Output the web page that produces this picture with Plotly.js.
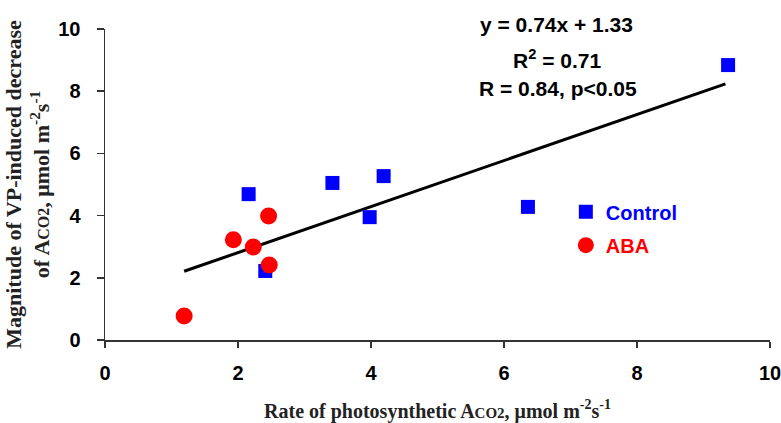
<!DOCTYPE html>
<html>
<head>
<meta charset="utf-8">
<script src="https://cdn.plot.ly/plotly-3.0.1.min.js"></script>
<style>html,body{margin:0;padding:0;background:#fff;}#chart{width:781px;height:423px;}</style>
</head>
<body>
<div id="chart"></div>
<script>
// Data
const controlX = [2.16, 2.41, 3.42, 3.98, 4.19, 6.36, 9.37];
const controlY = [4.69, 2.22, 5.05, 3.95, 5.27, 4.28, 8.84];
const abaX = [1.19, 1.93, 2.23, 2.46, 2.47];
const abaY = [0.77, 3.22, 2.99, 3.99, 2.41];
const seriesNames = ["Control", "ABA"];
const slope = 0.74;
const intercept = 1.33;
const r2 = 0.71;
const r = 0.84;
const pText = "p&lt;0.05";
const tickVals = [0, 2, 4, 6, 8, 10];

const allX = controlX.concat(abaX);
const xMin = Math.min(...allX), xMax = Math.max(...allX) - 0.04;
const lineX = [xMin, xMax];
const lineY = lineX.map(v => slope * v + intercept);

const sans = "Liberation Sans, Arial, sans-serif";
const serif = "Liberation Serif, Times New Roman, serif";

const traces = [
  {x: lineX, y: lineY, mode: "lines", line: {color: "#000", width: 3}, showlegend: false, hoverinfo: "skip"},
  {x: controlX, y: controlY, name: seriesNames[0], mode: "markers", type: "scatter",
   marker: {symbol: "square", size: 14, color: "#0000ff"}, legend: "legend"},
  {x: abaX, y: abaY, name: seriesNames[1], mode: "markers", type: "scatter",
   marker: {symbol: "circle", size: 17, color: "#ff0000"}, legend: "legend2"}
];

const unit = "μmol m<sup>-2</sup>s<sup>-1</sup>";
const aco2x = "A<span style=\"font-size:15px\">CO2</span>";
const aco2y = "A<span style=\"font-size:16px\">CO2</span>";

const layout = {
  width: 781, height: 423,
  margin: {l: 105, r: 11, t: 29, b: 83},
  paper_bgcolor: "#fff", plot_bgcolor: "#fff",
  xaxis: {
    range: [0, 10], tickvals: tickVals, showgrid: false, zeroline: false,
    showline: true, linecolor: "#333", linewidth: 1.5,
    ticks: "outside", ticklen: 6, tickwidth: 1.5, tickcolor: "#333",
    ticklabelstandoff: 8, ticklabeloverflow: "allow",
    tickfont: {family: sans, size: 20, color: "#000", weight: "bold"},
    title: {text: "Rate of photosynthetic " + aco2x + ", " + unit,
            font: {family: serif, size: 20, color: "#222", weight: "bold"}, standoff: 21}
  },
  yaxis: {
    range: [0, 10], tickvals: tickVals, showgrid: false, zeroline: false,
    showline: true, linecolor: "#333", linewidth: 1.5,
    ticks: "outside", ticklen: 7, tickwidth: 1.5, tickcolor: "#333",
    ticklabelstandoff: 12, ticklabeloverflow: "allow",
    tickfont: {family: sans, size: 20, color: "#000", weight: "bold"},
    title: {text: "Magnitude of VP-induced decrease<br>of " + aco2y + ", " + unit,
            font: {family: serif, size: 22, color: "#222", weight: "bold"}, standoff: 2}
  },
  showlegend: true,
  legend: {x: 0.693, y: 0.412, xanchor: "left", yanchor: "middle", bgcolor: "rgba(0,0,0,0)",
           font: {family: sans, size: 20, color: "#0000ff", weight: "bold"}},
  legend2: {x: 0.693, y: 0.305, xanchor: "left", yanchor: "middle", bgcolor: "rgba(0,0,0,0)",
           font: {family: sans, size: 20, color: "#ff0000", weight: "bold"}},
  annotations: [
    {xref: "paper", yref: "paper", x: 0.679, y: 1.013, showarrow: false, xanchor: "center", yanchor: "middle",
     text: "y = " + slope.toFixed(2) + "x + " + intercept.toFixed(2), font: {family: sans, size: 21, color: "#000", weight: "bold"}},
    {xref: "paper", yref: "paper", x: 0.679, y: 0.905, showarrow: false, xanchor: "center", yanchor: "middle",
     text: "R<sup>2</sup> = " + r2.toFixed(2), font: {family: sans, size: 21, color: "#000", weight: "bold"}},
    {xref: "paper", yref: "paper", x: 0.681, y: 0.81, showarrow: false, xanchor: "center", yanchor: "middle",
     text: "R = " + r.toFixed(2) + ", " + pText, font: {family: sans, size: 21, color: "#000", weight: "bold"}}
  ]
};

Plotly.newPlot("chart", traces, layout, {displayModeBar: false, staticPlot: true});
</script>
</body>
</html>
